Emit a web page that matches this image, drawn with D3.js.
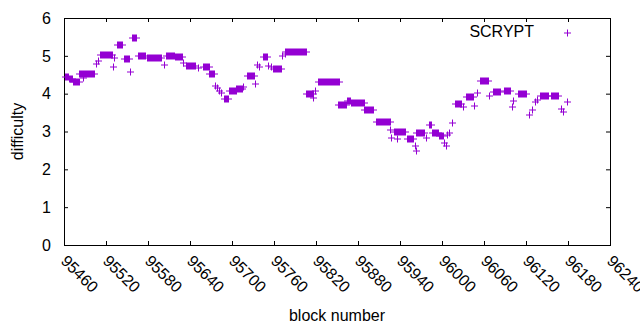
<!DOCTYPE html>
<html><head><meta charset="utf-8">
<script src="https://cdn.jsdelivr.net/npm/d3@7"></script>
<style>body{margin:0;background:#fff}text{font-family:"Liberation Sans",Arial,sans-serif;font-size:16px;fill:#000}</style>
</head><body><svg id="c" width="640" height="330"></svg>
<script>
// Runs of constant difficulty: first block, last block, difficulty (single points have start == end)
const runStart = [95461,95467,95473,95482,95487,95506,95509,95512,95530,95532,95535,95546,95554,95557,95565,95578,95603,95605,95618,95630,95634,95651,95658,95667,95675,95678,95681,95684,95688,95696,95706,95716,95721,95733,95736,95739,95744,95752,95755,95759,95771,95775,95776,95806,95816,95819,95823,95852,95864,95870,95888,95905,95926,95927,95931,95936,95950,95961,95963,95963,95977,95982,95986,95995,96003,96006,96007,96010,96014,96018,96030,96034,96046,96050,96054,96067,96073,96089,96100,96101,96109,96124,96129,96133,96136,96140,96156,96170,96173,96179];
const runEnd   = [95465,95472,95481,95503,95487,95506,95509,95529,95530,95532,95543,95553,95554,95563,95576,95599,95603,95617,95628,95630,95647,95651,95667,95674,95675,95678,95681,95684,95694,95705,95714,95716,95731,95733,95736,95739,95750,95752,95755,95770,95771,95775,95806,95815,95816,95819,95853,95863,95869,95888,95902,95925,95926,95927,95947,95936,95958,95961,95963,95974,95977,95984,95994,96001,96003,96006,96007,96010,96014,96027,96030,96044,96046,96050,96066,96067,96083,96097,96100,96101,96120,96124,96129,96133,96136,96151,96166,96170,96173,96179];
const runDifficulty = [4.45,4.38,4.32,4.52,4.41,4.78,4.86,5.03,4.70,4.93,5.29,4.92,4.57,5.48,5.00,4.93,4.76,5.00,4.96,4.82,4.72,4.67,4.71,4.51,4.20,4.15,4.08,4.02,3.86,4.08,4.12,4.18,4.48,4.26,4.75,4.70,4.96,4.74,4.70,4.66,5.00,5.06,5.09,3.98,3.89,4.06,4.32,3.70,3.80,3.75,3.58,3.24,3.04,2.83,2.98,2.80,2.80,2.62,2.49,2.95,2.83,3.17,2.96,2.89,2.70,2.62,2.92,2.95,3.22,3.74,3.64,3.91,3.67,4.01,4.33,3.94,4.05,4.08,3.66,3.81,3.99,3.44,3.57,3.78,3.83,3.93,3.94,3.59,3.52,3.77];
const xTicks = [95460,95520,95580,95640,95700,95760,95820,95880,95940,96000,96060,96120,96180,96240];
const yTicks = [0,1,2,3,4,5,6];
const seriesName = "SCRYPT";
const xTitle = "block number", yTitle = "difficulty";

const L=64,R=610,T=18,B=245, color="#9400d3", r=3.5;
const svg=d3.select("#c");
const x=d3.scaleLinear().domain([95460,96240]).range([L,R]);
const y=d3.scaleLinear().domain([0,6]).range([B,T]);

// axes (with mirrored ticks)
const tl=4;
function clean(g){g.select(".domain").remove();g.selectAll("line").attr("stroke","#000");}
svg.append("g").attr("transform",`translate(0,${B})`)
  .call(d3.axisBottom(x).tickValues(xTicks).tickSize(-tl).tickFormat("")).call(clean);
svg.append("g").attr("transform",`translate(0,${T})`)
  .call(d3.axisTop(x).tickValues(xTicks).tickSize(-tl).tickFormat("")).call(clean);
svg.append("g").attr("transform",`translate(${L},0)`)
  .call(d3.axisLeft(y).tickValues(yTicks).tickSize(-tl).tickFormat("")).call(clean);
svg.append("g").attr("transform",`translate(${R},0)`)
  .call(d3.axisRight(y).tickValues(yTicks).tickSize(-tl).tickFormat("")).call(clean);
svg.append("rect").attr("x",L+0.5).attr("y",T+0.5).attr("width",R-L).attr("height",B-T)
  .attr("fill","none").attr("stroke","#000").attr("stroke-width",1);

// tick labels
svg.append("g").selectAll("text").data(yTicks).join("text")
  .attr("x",L-13).attr("y",d=>y(d)).attr("dy","0.36em").attr("text-anchor","end").text(d=>d);
svg.append("g").selectAll("text").data(xTicks).join("text")
  .attr("transform",d=>`translate(${x(d)-4},${B+17}) rotate(45)`).attr("text-anchor","start").text(d=>d);

// titles
svg.append("text").attr("transform",`translate(23,${(T+B)/2}) rotate(-90)`).attr("text-anchor","middle").text(yTitle);
svg.append("text").attr("x",(L+R)/2).attr("y",321).attr("text-anchor","middle").text(xTitle);

// data: overlapping "+" marks per run of blocks
const runs = runStart.map((s,i)=>({s,e:runEnd[i],v:runDifficulty[i]}));
const gp=svg.append("g");
gp.selectAll("rect.bar").data(runs).join("rect")
  .attr("x",d=>Math.round(x(d.s))).attr("width",d=>Math.round(x(d.e))-Math.round(x(d.s))+1)
  .attr("y",d=>Math.round(y(d.v))-r).attr("height",2*r)
  .attr("fill",color);
gp.selectAll("line.arm").data(runs).join("line")
  .attr("x1",d=>Math.round(x(d.s))-r+0.5).attr("x2",d=>Math.round(x(d.e))+r+0.5)
  .attr("y1",d=>Math.round(y(d.v))).attr("y2",d=>Math.round(y(d.v)))
  .attr("stroke",color).attr("stroke-width",1);

// legend
svg.append("text").attr("x",534).attr("y",37).attr("text-anchor","end").text(seriesName);
const lx=567,ly=33;
svg.append("path").attr("d",`M${lx-r},${ly}H${lx+r}M${lx},${ly-r}V${ly+r}`).attr("stroke",color).attr("stroke-width",1).attr("transform","translate(0.5,0)");
</script></body></html>
